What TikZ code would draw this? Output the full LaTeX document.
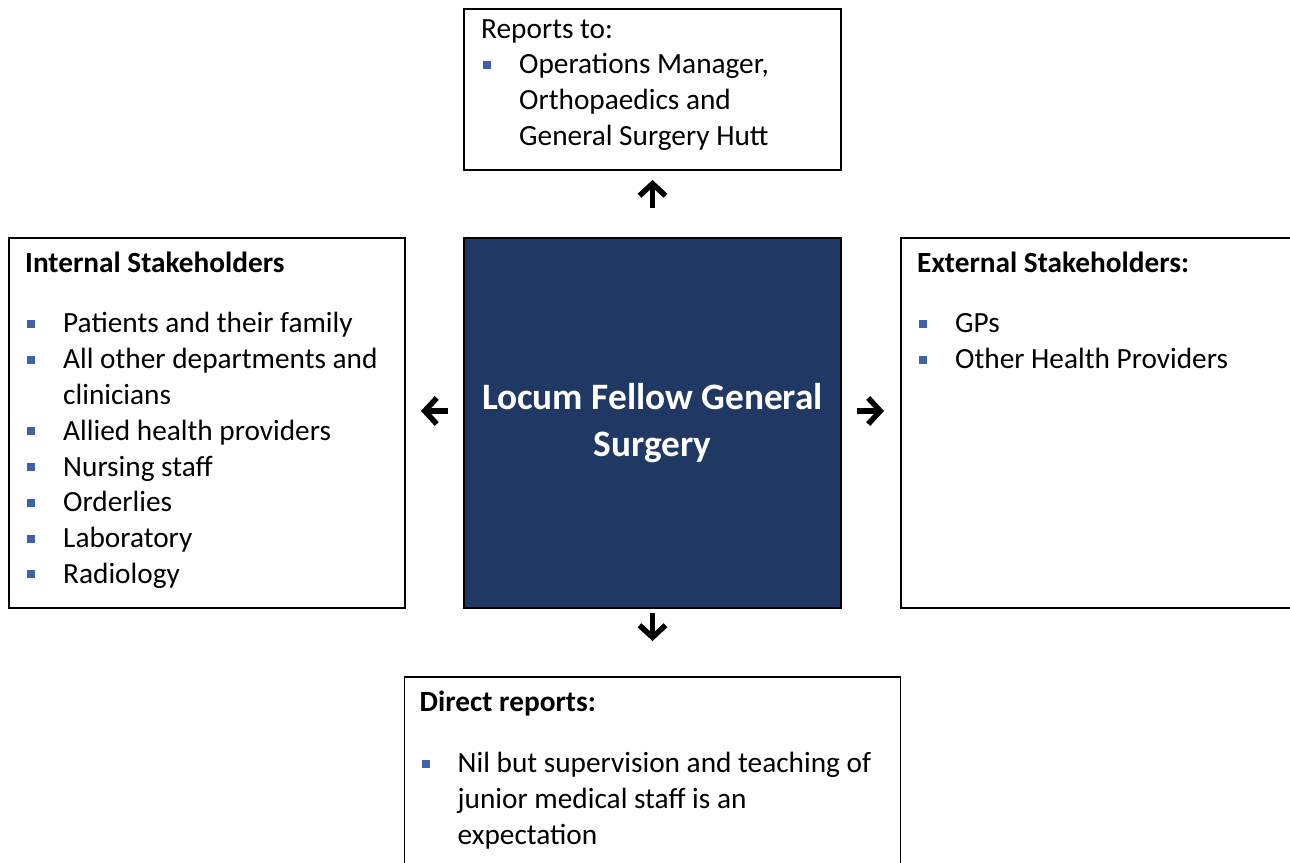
\documentclass[tikz,border=0pt]{standalone}
\usepackage{fontspec}
\setmainfont{Carlito}
\usepackage{tikz}
\usetikzlibrary{arrows.meta,positioning}
\definecolor{navy}{HTML}{203864}
\definecolor{bulletblue}{HTML}{3F62AD}
\newcommand{\bodyfont}{\fontsize{29.3}{35.8}\selectfont}
\newcommand{\titlefont}{\fontsize{37.3}{47}\selectfont\bfseries}
\newcommand{\sqbullet}{\textcolor{bulletblue}{\rule[5pt]{8pt}{8pt}}}
\newcommand{\bitem}[1]{\par\hangindent=38pt\hangafter=1\noindent\makebox[38pt][l]{\hspace{2pt}\sqbullet}#1}
\newenvironment{boxtext}{\begin{minipage}[t]{560pt}\raggedright\parindent=0pt\parskip=0pt}{\par\end{minipage}}
\tikzset{box/.style={draw, line width=1.6pt, rectangle, inner sep=0pt, outer sep=0pt, anchor=north west}, txt/.style={anchor=base west, inner sep=0pt, font=\bodyfont}, arr/.style={line width=5.5pt, -{Straight Barb[length=12pt,width=26pt]}}, x=1pt, y=-1pt}

\begin{document}
\begin{tikzpicture}
    \useasboundingbox (0,0) rectangle (1290,862);
    \node[box, fill=navy, minimum width=377pt, minimum height=370pt, align=center, text=white, font=\titlefont] (role) at (464,238) {Locum Fellow General\\Surgery};
    \node[box, minimum width=377pt, minimum height=161pt, above=68pt of role] (reports) {};
    \node[box, minimum width=396pt, minimum height=370pt, left=59pt of role.north west, anchor=north east] (internal) {};
    \node[box, minimum width=420pt, minimum height=370pt, right=60pt of role.north east, anchor=north west] (external) {};
    \node[box, minimum width=496pt, minimum height=200pt, below=69pt of role] (direct) {};
    \node[txt] (reportsText) at ([xshift=17pt,yshift=-29pt]reports.north west) {\begin{boxtext}
        Reports to:
        \bitem{Operations Manager,\newline Orthopaedics and\newline General Surgery Hutt}
    \end{boxtext}};
    \node[txt] (internalText) at ([xshift=16pt,yshift=-34pt]internal.north west) {\begin{boxtext}
        \textbf{Internal Stakeholders}\par\vspace{25pt}
        \bitem{Patients and their family}
        \bitem{All other departments and\newline clinicians}
        \bitem{Allied health providers}
        \bitem{Nursing staff}
        \bitem{Orderlies}
        \bitem{Laboratory}
        \bitem{Radiology}
    \end{boxtext}};
    \node[txt] (externalText) at ([xshift=16pt,yshift=-34pt]external.north west) {\begin{boxtext}
        \textbf{External Stakeholders:}\par\vspace{25pt}
        \bitem{GPs}
        \bitem{Other Health Providers}
    \end{boxtext}};
    \node[txt] (directText) at ([xshift=15pt,yshift=-34pt]direct.north west) {\begin{boxtext}
        \textbf{Direct reports:}\par\vspace{26pt}
        \bitem{Nil but supervision and teaching of\newline junior medical staff is an\newline expectation}
    \end{boxtext}};
    \coordinate (upFrom) at ([yshift=30pt]role.north);
    \coordinate (upTo) at ([yshift=58pt]role.north);
    \coordinate (leftFrom) at ([xshift=-16pt,yshift=12pt]role.west);
    \coordinate (leftTo) at ([xshift=-43pt,yshift=12pt]role.west);
    \coordinate (rightFrom) at ([xshift=16pt,yshift=12pt]role.east);
    \coordinate (rightTo) at ([xshift=43pt,yshift=12pt]role.east);
    \coordinate (downFrom) at ([yshift=-5pt]role.south);
    \coordinate (downTo) at ([yshift=-33pt]role.south);
    \draw[arr] (upFrom) -- (upTo);
    \draw[arr] (leftFrom) -- (leftTo);
    \draw[arr] (rightFrom) -- (rightTo);
    \draw[arr] (downFrom) -- (downTo);
\end{tikzpicture}
\end{document}
